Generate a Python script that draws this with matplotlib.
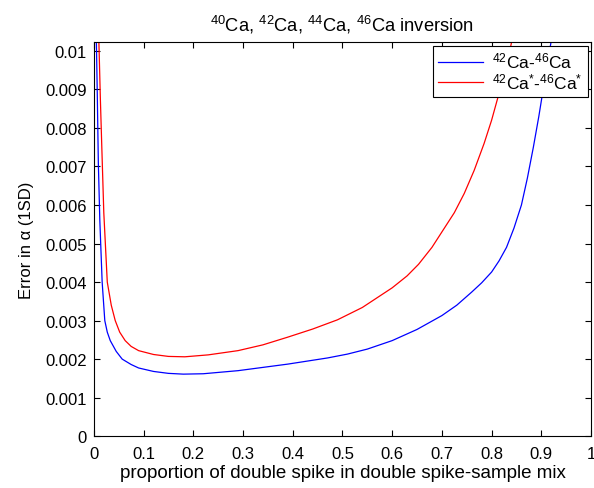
import numpy as np
import matplotlib
matplotlib.use("Agg")
import matplotlib.pyplot as plt

plt.rcParams['font.family'] = ['Liberation Sans', 'DejaVu Sans']
plt.rcParams['mathtext.fontset'] = 'custom'
plt.rcParams['mathtext.rm'] = 'Liberation Sans'
plt.rcParams['mathtext.it'] = 'Liberation Sans:italic'

# 42Ca-46Ca spike (blue)
blue_x = [0.005, 0.007, 0.009, 0.012, 0.0167, 0.022, 0.027, 0.033, 0.045, 0.057, 0.075,
          0.09, 0.12, 0.15, 0.18, 0.22, 0.29, 0.39, 0.47, 0.51, 0.55, 0.6, 0.65, 0.7,
          0.73, 0.76, 0.78, 0.8, 0.815, 0.83, 0.845, 0.86, 0.872, 0.884, 0.895, 0.905, 0.915, 0.922]
blue_y = [0.0103, 0.0088, 0.0071, 0.0056, 0.0040, 0.0030, 0.0027, 0.00248, 0.0022, 0.0020, 0.00186,
          0.00177, 0.00168, 0.00163, 0.00161, 0.00162, 0.0017, 0.00187, 0.00203, 0.00213, 0.00226, 0.00248, 0.00277, 0.00313,
          0.0034, 0.00374, 0.00398, 0.00426, 0.00455, 0.0049, 0.0054, 0.006, 0.0067, 0.0075, 0.0083, 0.0091, 0.0099, 0.0104]

# 42Ca*-46Ca* spike (red)
red_x = [0.01, 0.013, 0.016, 0.02, 0.027, 0.035, 0.043, 0.052, 0.063, 0.075, 0.09, 0.12, 0.15, 0.183,
         0.23, 0.29, 0.34, 0.39, 0.44, 0.49, 0.54, 0.6, 0.63, 0.653, 0.68, 0.705,
         0.725, 0.745, 0.765, 0.785, 0.8, 0.815, 0.83, 0.843]
red_y = [0.0103, 0.0088, 0.0075, 0.0058, 0.0040, 0.0034, 0.0030, 0.0027, 0.00248, 0.00233, 0.00222, 0.00212, 0.00207, 0.00206,
         0.00211, 0.00222, 0.00237, 0.00257, 0.00278, 0.00302, 0.00334, 0.00385, 0.00416, 0.00446, 0.0049, 0.0054,
         0.0058, 0.0063, 0.0069, 0.0076, 0.0082, 0.0089, 0.0096, 0.0104]

xticks = np.arange(0, 1.01, 0.1)
yticks = np.arange(0, 0.0101, 0.001)

fig = plt.figure(figsize=(5.94, 4.89), dpi=100)
ax = fig.add_axes([0.158, 0.106, 0.837, 0.806])

ax.plot(blue_x, blue_y, color='blue', lw=0.9, label=r'$^{42}$Ca-$^{46}$Ca')
ax.plot(red_x, red_y, color='red', lw=0.9, label=r'$^{42}$Ca$^{*}$-$^{46}$Ca$^{*}$')

ax.set_xlim(0, 1)
ax.set_ylim(0, 0.01023)
ax.set_xticks(xticks)
ax.set_xticklabels(['0', '0.1', '0.2', '0.3', '0.4', '0.5', '0.6', '0.7', '0.8', '0.9', '1'])
ax.set_yticks(yticks)
ax.set_yticklabels(['0'] + ['%.3f' % v for v in yticks[1:-1]] + ['0.01'])
ax.tick_params(direction='in', top=True, right=True, labelsize=12, length=4, width=0.8)
ax.tick_params(axis='x', pad=7)
ax.tick_params(axis='y', pad=5)
for s in ax.spines.values():
    s.set_linewidth(0.8)

ax.set_xlabel('proportion of double spike in double spike-sample mix', fontsize=13.5, labelpad=2)
ax.set_ylabel('Error in α (1SD)', fontsize=12, labelpad=8)
ax.set_title(r'$^{40}$Ca, $^{42}$Ca, $^{44}$Ca, $^{46}$Ca inversion', fontsize=13.2, pad=8)

leg = ax.legend(loc='upper right', fontsize=12.5, fancybox=False, edgecolor='black',
                framealpha=1, borderaxespad=0.2, handlelength=2.6, labelspacing=0.05,
                borderpad=0.3, handletextpad=0.5)
leg.get_frame().set_linewidth(0.8)

fig.savefig('out.png', dpi=100)
